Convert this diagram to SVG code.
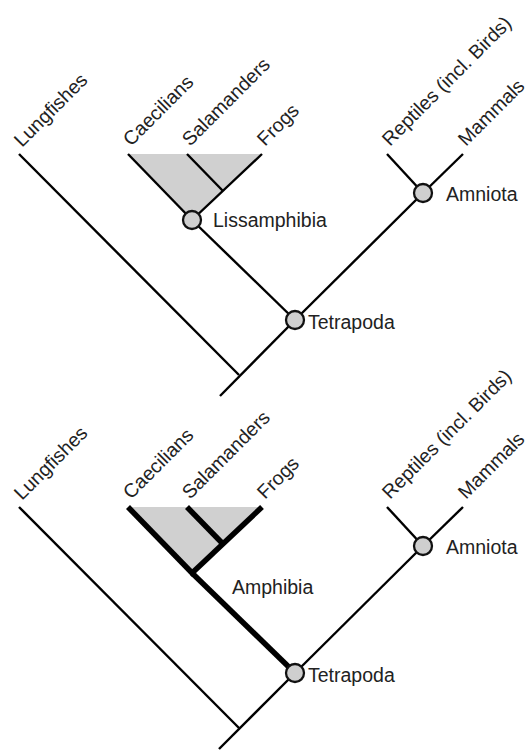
<svg xmlns="http://www.w3.org/2000/svg" width="528" height="753" viewBox="0 0 528 753">
<style>
text{font-family:"Liberation Sans",Arial,sans-serif;font-size:19.5px;fill:#222}
.br{stroke:#000;stroke-width:2.4;fill:none;stroke-linecap:butt}
.thk{stroke:#000;stroke-width:5.5;fill:none}
.clade{fill:#d0d0d0;stroke:none}
.node{fill:#cfcfcf;stroke:#111;stroke-width:2.3}
</style>
<rect width="528" height="753" fill="#fff"/>
<g id="shading">
<polygon class="clade" points="128,154 262,154 192,220"/>
<polygon class="clade" points="128,507 262,507 192,573"/>
</g>
<g id="connectors">
<line class="br" x1="19" y1="154" x2="239" y2="375"/>
<line class="br" x1="220" y1="396" x2="295" y2="320"/>
<line class="br" x1="295" y1="320" x2="423" y2="193"/>
<line class="br" x1="387" y1="154" x2="423" y2="193"/>
<line class="br" x1="463" y1="154" x2="423" y2="193"/>
<line class="br" x1="192" y1="220" x2="295" y2="320"/>
<line class="br" x1="128" y1="154" x2="192" y2="220"/>
<line class="br" x1="262" y1="154" x2="192" y2="220"/>
<line class="br" x1="187" y1="154" x2="223" y2="191"/>
<line class="br" x1="19" y1="507" x2="239" y2="728"/>
<line class="br" x1="219" y1="749" x2="295" y2="673"/>
<line class="br" x1="295" y1="673" x2="423" y2="546"/>
<line class="br" x1="387" y1="507" x2="423" y2="546"/>
<line class="br" x1="463" y1="507" x2="423" y2="546"/>
<line class="thk" x1="192" y1="573" x2="295" y2="673"/>
<line class="thk" x1="128" y1="507" x2="194" y2="575"/>
<line class="thk" x1="262" y1="507" x2="191" y2="574"/>
<line class="thk" x1="187" y1="507" x2="224" y2="545"/>
</g>
<g id="top-lungfishes"><text transform="translate(22,148) rotate(-45)">Lungfishes</text></g>
<g id="top-caecilians"><text transform="translate(131,147) rotate(-45)">Caecilians</text></g>
<g id="top-salamanders"><text transform="translate(190,147) rotate(-45)">Salamanders</text></g>
<g id="top-frogs"><text transform="translate(265,147) rotate(-45)">Frogs</text></g>
<g id="top-reptiles"><text transform="translate(390,147) rotate(-45)">Reptiles (incl. Birds)</text></g>
<g id="top-mammals"><text transform="translate(466,147) rotate(-45)">Mammals</text></g>
<g id="top-lissamphibia"><circle class="node" cx="192" cy="220" r="9"/><text x="213" y="227">Lissamphibia</text></g>
<g id="top-amniota"><circle class="node" cx="423" cy="193" r="9"/><text x="446" y="201">Amniota</text></g>
<g id="top-tetrapoda"><circle class="node" cx="295" cy="320" r="9"/><text x="308" y="329">Tetrapoda</text></g>
<g id="bot-lungfishes"><text transform="translate(22,501) rotate(-45)">Lungfishes</text></g>
<g id="bot-caecilians"><text transform="translate(131,500) rotate(-45)">Caecilians</text></g>
<g id="bot-salamanders"><text transform="translate(190,500) rotate(-45)">Salamanders</text></g>
<g id="bot-frogs"><text transform="translate(265,500) rotate(-45)">Frogs</text></g>
<g id="bot-reptiles"><text transform="translate(390,500) rotate(-45)">Reptiles (incl. Birds)</text></g>
<g id="bot-mammals"><text transform="translate(466,500) rotate(-45)">Mammals</text></g>
<g id="bot-amphibia"><text x="232" y="594">Amphibia</text></g>
<g id="bot-amniota"><circle class="node" cx="423" cy="546" r="9"/><text x="446" y="554">Amniota</text></g>
<g id="bot-tetrapoda"><circle class="node" cx="295" cy="673" r="9"/><text x="308" y="682">Tetrapoda</text></g>
</svg>
